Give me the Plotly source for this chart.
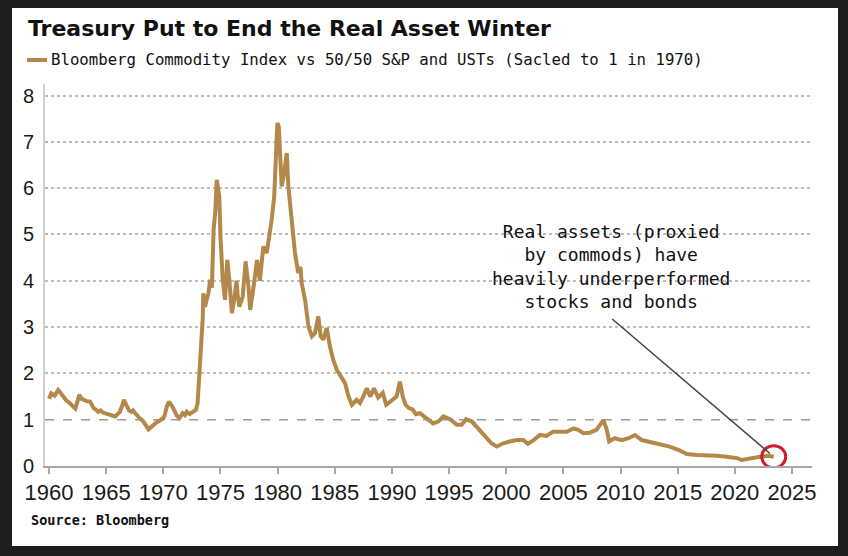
import plotly.graph_objects as go

# ---- data ----
years = [1960.0, 1960.2, 1960.5, 1960.8, 1961.0, 1961.25, 1961.5, 1961.8, 1962.05, 1962.3, 1962.5, 1962.65,
         1962.85, 1963.0, 1963.3, 1963.6, 1963.9, 1964.1, 1964.3, 1964.5, 1964.75, 1965.0, 1965.2, 1965.5,
         1965.8, 1966.0, 1966.2, 1966.4, 1966.55, 1966.7, 1966.85, 1967.0, 1967.2, 1967.35, 1967.5, 1967.7,
         1967.95, 1968.2, 1968.4, 1968.55, 1968.7, 1968.9, 1969.1, 1969.3, 1969.55, 1969.8, 1970.0, 1970.15,
         1970.3, 1970.5, 1970.65, 1970.8, 1971.0, 1971.15, 1971.4, 1971.55, 1971.7, 1971.9, 1972.05, 1972.3,
         1972.5, 1972.7, 1972.85, 1973.0, 1973.1, 1973.2, 1973.35, 1973.45, 1973.5, 1973.65, 1973.8, 1973.95,
         1974.1, 1974.25, 1974.4, 1974.55, 1974.67, 1974.8, 1974.9, 1975.0, 1975.1, 1975.2, 1975.4, 1975.6,
         1975.78, 1975.9, 1976.0, 1976.2, 1976.4, 1976.5, 1976.65, 1976.95, 1977.2, 1977.45, 1977.6, 1977.9,
         1978.2, 1978.45, 1978.75, 1979.05, 1979.27, 1979.48, 1979.7, 1979.86, 1979.98, 1980.1, 1980.25,
         1980.36, 1980.56, 1980.8, 1980.94, 1981.1, 1981.23, 1981.52, 1981.8, 1982.0, 1982.1, 1982.4, 1982.7,
         1983.0, 1983.27, 1983.56, 1983.77, 1984.0, 1984.3, 1984.58, 1984.87, 1985.17, 1985.6, 1985.9,
         1986.2, 1986.5, 1986.9, 1987.2, 1987.5, 1987.8, 1988.1, 1988.43, 1988.8, 1989.2, 1989.5, 1990.0,
         1990.4, 1990.7, 1990.95, 1991.2, 1991.5, 1991.8, 1992.1, 1992.45, 1993.05, 1993.6, 1994.06, 1994.5,
         1995.1, 1995.67, 1996.1, 1996.5, 1997.0, 1997.4, 1997.85, 1998.3, 1998.7, 1999.17, 1999.75, 2000.3,
         2000.9, 2001.5, 2001.9, 2002.4, 2002.95, 2003.5, 2004.1, 2004.7, 2005.3, 2005.9, 2006.3, 2006.75,
         2007.3, 2007.9, 2008.3, 2008.5, 2008.8, 2009.0, 2009.5, 2010.1, 2010.7, 2011.27, 2011.85, 2012.4,
         2013.0, 2013.6, 2014.3, 2015.06, 2015.8, 2016.67, 2017.5, 2018.4, 2019.3, 2020.2, 2020.6, 2021.3,
         2022.2, 2022.9, 2023.4]
values = [1.45, 1.57, 1.52, 1.64, 1.58, 1.50, 1.42, 1.36, 1.30, 1.24, 1.40, 1.54,
          1.45, 1.43, 1.40, 1.39, 1.25, 1.22, 1.17, 1.20, 1.15, 1.13, 1.12, 1.10,
          1.07, 1.12, 1.17, 1.30, 1.43, 1.35, 1.28, 1.20, 1.17, 1.20, 1.15, 1.08,
          1.03, 0.98, 0.92, 0.85, 0.79, 0.84, 0.89, 0.92, 0.96, 1.00, 1.03, 1.12,
          1.28, 1.39, 1.35, 1.28, 1.18, 1.10, 1.03, 1.08, 1.14, 1.10, 1.17, 1.12,
          1.15, 1.18, 1.21, 1.35, 1.71, 2.36, 2.72, 3.20, 3.73, 3.44, 3.60, 3.73,
          4.02, 3.85, 5.10, 5.50, 6.18, 6.00, 5.82, 4.96, 4.40, 4.02, 3.59, 4.45,
          4.00, 3.60, 3.30, 3.59, 4.00, 3.70, 3.44, 3.66, 4.42, 3.88, 3.37, 3.88,
          4.45, 4.00, 4.74, 4.60, 4.96, 5.32, 5.82, 6.54, 7.41, 7.33, 6.60,
          6.04, 6.30, 6.76, 6.04, 5.70, 5.32, 4.60, 4.17, 4.30, 3.95, 3.59, 3.01,
          2.80, 2.87, 3.23, 2.80, 2.73, 2.98, 2.58, 2.29, 2.08, 1.90, 1.79,
          1.50, 1.32, 1.43, 1.36, 1.50, 1.68, 1.50, 1.68, 1.48, 1.58, 1.32, 1.43,
          1.50, 1.82, 1.50, 1.32, 1.25, 1.22, 1.12, 1.14, 1.03, 0.92, 0.96, 1.07,
          1.01, 0.89, 0.89, 1.01, 0.96, 0.85, 0.71, 0.60, 0.49, 0.42, 0.49, 0.53,
          0.56, 0.56, 0.48, 0.56, 0.67, 0.65, 0.74, 0.74, 0.74, 0.81, 0.78, 0.71,
          0.72, 0.78, 0.90, 0.99, 0.78, 0.53, 0.60, 0.56, 0.60, 0.67, 0.56, 0.53,
          0.49, 0.45, 0.42, 0.35, 0.26, 0.24, 0.24, 0.22, 0.20, 0.17, 0.13, 0.17,
          0.20, 0.22, 0.20]

x_ticks = [1960, 1965, 1970, 1975, 1980, 1985, 1990, 1995, 2000, 2005, 2010, 2015, 2020, 2025]
y_ticks = [0, 1, 2, 3, 4, 5, 6, 7, 8]
grid_levels = [2, 3, 4, 5, 6, 7, 8]
ref_level = 1

title_text = "Treasury Put to End the Real Asset Winter"
series_name = "Bloomberg Commodity Index vs 50/50 S&P and USTs (Sacled to 1 in 1970)"
note_text = "Real assets (proxied<br>by commods) have<br>heavily underperformed<br>stocks and bonds"
source_text = "Source: Bloomberg"

# ---- layout geometry ----
W, H = 848, 556
L, R, T, B = 45, 36, 84, 90
PW, PH = W - L - R, H - T - B

def px(xp):
    return (xp - L) / PW

def py(yp):
    return (H - B - yp) / PH

LINE = "#b4884a"
DARK = "#1e1e1e"
MONO = "DejaVu Sans Mono, Liberation Mono, monospace"
NARROW = "Liberation Sans Narrow, Arial Narrow, Liberation Sans, sans-serif"

fig = go.Figure()
fig.add_trace(go.Scatter(x=years, y=values, mode="lines",
                         line=dict(color=LINE, width=4), name=series_name,
                         showlegend=False, hoverinfo="skip"))

fig.update_layout(
    width=W, height=H, autosize=False,
    margin=dict(l=L, r=R, t=T, b=B, autoexpand=False),
    paper_bgcolor=DARK, plot_bgcolor="white",
    xaxis=dict(range=[1959.65, 2026.75], tickmode="array", tickvals=x_ticks, automargin=False,
               showgrid=False, zeroline=False, showline=True, linecolor="#a8a8a8", linewidth=2,
               ticks="outside", ticklen=6, tickwidth=1.5, tickcolor="#a8a8a8",
               tickfont=dict(family=NARROW, size=22, color="#1a1a1a")),
    yaxis=dict(range=[0, 8.25], tickmode="array", tickvals=y_ticks, automargin=False,
               showgrid=False, zeroline=False, showline=True, linecolor="#cfcfcf", linewidth=2,
               ticks="", ticklabelstandoff=5,
               tickfont=dict(family="Liberation Sans, Arial, sans-serif", size=20, color="#1a1a1a"),
               minor=dict(tickmode="array", tickvals=grid_levels, showgrid=True,
                          gridcolor="#bdbdbd", gridwidth=1.5, griddash="dot", ticks="")),
)

# white panel behind everything
fig.add_shape(type="rect", xref="paper", yref="paper", layer="below",
              x0=px(12), x1=px(838), y0=py(546), y1=py(8),
              line=dict(width=0), fillcolor="white")

# dashed reference line at 1
fig.add_shape(type="line", xref="paper", yref="y", x0=0, x1=1, y0=ref_level, y1=ref_level,
              line=dict(color="#9a9a9a", width=1.6, dash="dash"), layer="below")

# red circle around latest value
fig.add_shape(type="circle", xref="x", yref="y", xsizemode="pixel", ysizemode="pixel",
              xanchor=years[-1], yanchor=values[-1], x0=-12, x1=12, y0=-11, y1=11,
              line=dict(color="#cc1f2b", width=3))

# title
fig.add_annotation(xref="paper", yref="paper", x=px(26), y=py(28), xanchor="left", yanchor="middle",
                   text="<b>" + title_text + "</b>", showarrow=False,
                   font=dict(family="DejaVu Sans, sans-serif", size=22, color="#111"))
# legend entry
fig.add_shape(type="line", xref="paper", yref="paper", x0=px(27), x1=px(47), y0=py(60), y1=py(60),
              line=dict(color=LINE, width=4))
fig.add_annotation(xref="paper", yref="paper", x=px(49), y=py(60), xanchor="left", yanchor="middle",
                   text=series_name, showarrow=False,
                   font=dict(family=MONO, size=15.7, color="#111"))

# callout text
fig.add_annotation(xref="paper", yref="paper", x=px(611), y=py(266), xanchor="center", yanchor="middle",
                   text=note_text, showarrow=False, align="center",
                   font=dict(family=MONO, size=18, color="#111"))
# callout arrow line
fig.add_annotation(xref="x", yref="y", x=years[-1], y=values[-1], text="", showarrow=True,
                   arrowhead=0, arrowwidth=1.5, arrowcolor="#444", standoff=5,
                   axref="pixel", ayref="pixel", ax=-163, ay=-139)

# source
fig.add_annotation(xref="paper", yref="paper", x=px(29), y=py(520), xanchor="left", yanchor="middle",
                   text="<b>" + source_text + "</b>", showarrow=False,
                   font=dict(family=MONO, size=13.5, color="#111"))

fig.write_html("out.html", config={"displayModeBar": False},
               post_script="document.body.style.margin='0';document.body.style.background='" + DARK + "';")
